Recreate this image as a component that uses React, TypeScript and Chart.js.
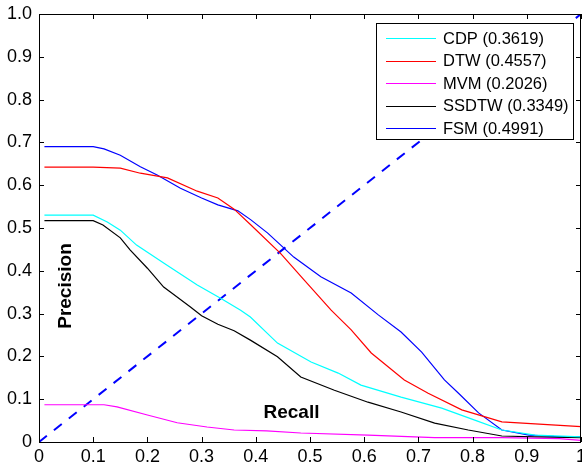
import React, { useEffect, useRef } from "react";
import { Chart, registerables } from "chart.js";

Chart.register(...registerables);

const FONT = "'Liberation Sans', Arial, Helvetica, sans-serif";

const cdpX = [0.01, 0.1, 0.126, 0.15, 0.18, 0.23, 0.292, 0.335, 0.372, 0.39, 0.44, 0.502, 0.552, 0.594, 0.668, 0.743, 0.804, 0.854, 0.915, 1.0];
const cdpY = [0.53, 0.53, 0.514, 0.495, 0.46, 0.418, 0.367, 0.336, 0.308, 0.292, 0.231, 0.187, 0.161, 0.133, 0.105, 0.079, 0.051, 0.028, 0.016, 0.012];

const dtwX = [0.01, 0.1, 0.15, 0.187, 0.237, 0.292, 0.33, 0.36, 0.391, 0.446, 0.489, 0.539, 0.576, 0.613, 0.674, 0.718, 0.78, 0.854, 0.946, 1.0];
const dtwY = [0.642, 0.642, 0.64, 0.628, 0.617, 0.586, 0.57, 0.544, 0.507, 0.44, 0.379, 0.308, 0.262, 0.208, 0.145, 0.114, 0.075, 0.047, 0.04, 0.036];

const mvmX = [0.01, 0.12, 0.144, 0.2, 0.255, 0.31, 0.36, 0.42, 0.483, 0.607, 0.73, 0.854, 0.96, 1.0];
const mvmY = [0.087, 0.087, 0.082, 0.063, 0.045, 0.035, 0.028, 0.026, 0.021, 0.016, 0.01, 0.01, 0.008, 0.004];

const ssdtwX = [0.01, 0.1, 0.118, 0.15, 0.168, 0.2, 0.23, 0.243, 0.28, 0.3, 0.33, 0.36, 0.39, 0.44, 0.483, 0.545, 0.607, 0.668, 0.73, 0.792, 0.854, 0.915, 1.0];
const ssdtwY = [0.517, 0.517, 0.507, 0.477, 0.449, 0.406, 0.362, 0.35, 0.315, 0.295, 0.275, 0.26, 0.238, 0.199, 0.152, 0.121, 0.093, 0.07, 0.044, 0.028, 0.014, 0.012, 0.01];

const fsmX = [0.01, 0.1, 0.12, 0.15, 0.187, 0.218, 0.261, 0.3, 0.33, 0.367, 0.391, 0.422, 0.446, 0.47, 0.52, 0.576, 0.626, 0.668, 0.706, 0.748, 0.774, 0.811, 0.854, 0.904, 0.95, 1.0];
const fsmY = [0.69, 0.69, 0.685, 0.67, 0.643, 0.624, 0.593, 0.57, 0.554, 0.54, 0.519, 0.488, 0.46, 0.432, 0.386, 0.348, 0.297, 0.257, 0.21, 0.145, 0.114, 0.068, 0.028, 0.016, 0.013, 0.012];

const diagX = [0, 1];
const diagY = [0, 1];

const seriesNames = ["CDP (0.3619)", "DTW (0.4557)", "MVM (0.2026)", "SSDTW (0.3349)", "FSM (0.4991)"];
const seriesColors = ["#00ffff", "#ff0000", "#ff00ff", "#000000", "#0000ff"];

const xTicks = [0, 0.1, 0.2, 0.3, 0.4, 0.5, 0.6, 0.7, 0.8, 0.9, 1];
const yTicks = [0, 0.1, 0.2, 0.3, 0.4, 0.5, 0.6, 0.7, 0.8, 0.9, 1];
const xTitle = "Recall";
const yTitle = "Precision";

const pts = (xs: number[], ys: number[]) => xs.map((x, i) => ({ x, y: ys[i] }));

const framePlugin = {
  id: "frame",
  afterDatasetsDraw(chart: any) {
    const { ctx, chartArea } = chart;
    const { left, right, top, bottom } = chartArea;
    const xs = chart.scales.x;
    const ys = chart.scales.y;
    ctx.save();
    // axis titles
    ctx.fillStyle = "#000";
    ctx.font = `bold 19px ${FONT}`;
    ctx.textAlign = "center";
    ctx.textBaseline = "middle";
    ctx.fillText(xTitle, 291.5, 413);
    ctx.save();
    ctx.translate(66, 286);
    ctx.rotate(-Math.PI / 2);
    ctx.fillText(yTitle, 0, 0);
    ctx.restore();

    // frame
    ctx.strokeStyle = "#000";
    ctx.lineWidth = 1;
    ctx.beginPath();
    ctx.rect(Math.round(left) + 0.5, Math.round(top) + 0.5, Math.round(right - left) - 1, Math.round(bottom - top));
    ctx.stroke();
    // ticks inward
    const tl = 5;
    ctx.beginPath();
    xTicks.forEach((v) => {
      const px = Math.round(xs.getPixelForValue(v)) + 0.5;
      ctx.moveTo(px, bottom);
      ctx.lineTo(px, bottom - tl);
      ctx.moveTo(px, top);
      ctx.lineTo(px, top + tl);
    });
    yTicks.forEach((v) => {
      const py = Math.round(ys.getPixelForValue(v)) + 0.5;
      ctx.moveTo(left, py);
      ctx.lineTo(left + tl, py);
      ctx.moveTo(right, py);
      ctx.lineTo(right - tl, py);
    });
    ctx.stroke();

    // legend
    const bx = 376.5, by = 23.5, bw = 197, bh = 116;
    ctx.fillStyle = "#fff";
    ctx.fillRect(bx, by, bw, bh);
    ctx.strokeStyle = "#000";
    ctx.strokeRect(bx, by, bw, bh);
    ctx.font = `16.5px ${FONT}`;
    ctx.textAlign = "left";
    ctx.textBaseline = "middle";
    seriesNames.forEach((name, i) => {
      const ry = 38 + i * 22.5;
      ctx.strokeStyle = seriesColors[i];
      ctx.lineWidth = 1;
      ctx.beginPath();
      ctx.moveTo(386, Math.round(ry) + 0.5);
      ctx.lineTo(436, Math.round(ry) + 0.5);
      ctx.stroke();
      ctx.fillStyle = "#000";
      ctx.fillText(name, 443, ry + 1);
    });
    ctx.restore();
  },
};

export default function App() {
  const ref = useRef<HTMLCanvasElement>(null);
  useEffect(() => {
    document.body.style.margin = "0";
    const canvas = ref.current!;
    const seriesData = [
      pts(cdpX, cdpY),
      pts(dtwX, dtwY),
      pts(mvmX, mvmY),
      pts(ssdtwX, ssdtwY),
      pts(fsmX, fsmY),
    ];
    const datasets: any[] = seriesData.map((d, i) => ({
      label: seriesNames[i],
      data: d,
      borderColor: seriesColors[i],
      borderWidth: 1.2,
      pointRadius: 0,
      fill: false,
      tension: 0,
    }));
    datasets.push({
      label: "diag",
      data: pts(diagX, diagY),
      borderColor: "#0000ff",
      borderWidth: 2,
      borderDash: [10, 9],
      pointRadius: 0,
      fill: false,
    });
    const chart = new Chart(canvas, {
      type: "line",
      data: { datasets },
      options: {
        animation: false,
        responsive: false,
        maintainAspectRatio: false,
        devicePixelRatio: 1,
        parsing: false as any,
        layout: { padding: { left: 0, right: 1, top: 14, bottom: 0 }, autoPadding: false } as any,
        plugins: { legend: { display: false }, tooltip: { enabled: false } },
        scales: {
          x: {
            type: "linear",
            min: 0,
            max: 1,
            grid: { display: false, drawTicks: false },
            border: { display: false },
            afterFit: (s: any) => {
              s.height = 24;
              s.paddingLeft = 0;
              s.paddingRight = 0;
              s.paddingTop = 0;
              s.paddingBottom = 0;
            },
            afterBuildTicks: (s: any) => { s.ticks = xTicks.map((v) => ({ value: v })); },
            ticks: {
              autoSkip: false,
              maxRotation: 0,
              padding: 4,
              color: "#000",
              font: { family: FONT, size: 18 },
              callback: (v: any) => String(Number(Number(v).toFixed(1))),
            },
          },
          y: {
            type: "linear",
            min: 0,
            max: 1,
            grid: { display: false, drawTicks: false },
            border: { display: false },
            afterFit: (s: any) => {
              s.width = 39;
              s.paddingLeft = 0;
              s.paddingRight = 0;
              s.paddingTop = 0;
              s.paddingBottom = 0;
            },
            afterBuildTicks: (s: any) => { s.ticks = yTicks.map((v) => ({ value: v })); },
            ticks: {
              autoSkip: false,
              padding: 7,
              color: "#000",
              font: { family: FONT, size: 18 },
              callback: (v: any) => (Number(v) === 1 ? "1.0" : String(Number(Number(v).toFixed(1)))),
            },
          },
        },
      },
      plugins: [framePlugin],
    });
    return () => chart.destroy();
  }, []);
  return (
    <div style={{ width: 582, height: 466 }}>
      <canvas ref={ref} width={582} height={466} style={{ display: "block" }} />
    </div>
  );
}
